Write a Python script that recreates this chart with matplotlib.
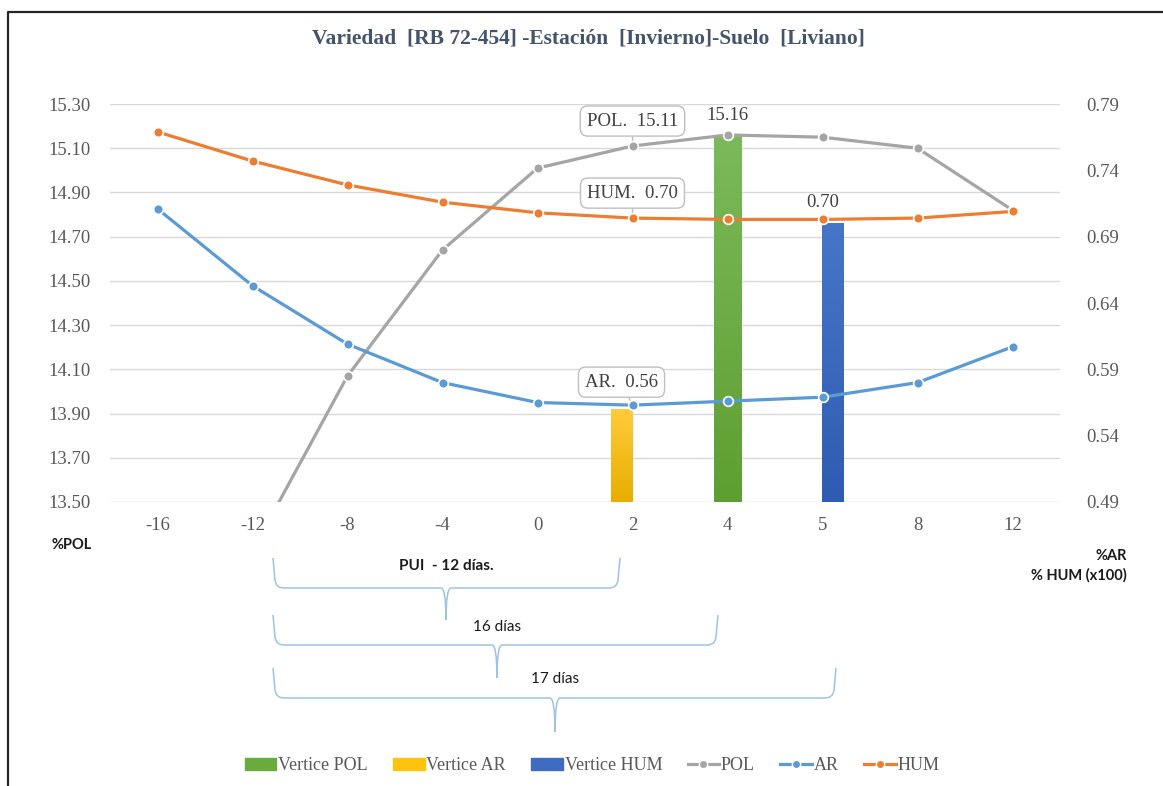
import numpy as np
import matplotlib.pyplot as plt
from matplotlib.path import Path
from matplotlib.patches import PathPatch
from matplotlib.lines import Line2D
from matplotlib.colors import LinearSegmentedColormap

plt.rcParams['font.family'] = ['Liberation Serif', 'DejaVu Serif']

# Días respecto a la cosecha
dias = ["-16", "-12", "-8", "-4", "0", "2", "4", "5", "8", "12"]

# %POL (eje izquierdo)
pol = [12.60, 13.28, 14.07, 14.64, 15.01, 15.11, 15.16, 15.15, 15.10, 14.82]
# %AR y %HUM x100 (eje derecho)
ar = [0.711, 0.653, 0.609, 0.580, 0.565, 0.563, 0.566, 0.569, 0.580, 0.607]
hum = [0.769, 0.747, 0.729, 0.716, 0.708, 0.704, 0.703, 0.703, 0.704, 0.709]

# Vértices de cada curva
vertice_pol = 15.16
vertice_ar = 0.56
vertice_hum = 0.70

c_pol, c_ar, c_hum = "#A5A5A5", "#5B9BD5", "#ED7D31"
c_vpol, c_var, c_vhum = "#6AAB40", "#FFC20E", "#3F6CC0"
gris_txt = "#595959"
grid_c = "#D9D9D9"

W, H = 1163, 786
fig = plt.figure(figsize=(W / 100, H / 100), dpi=100)
ax = fig.add_axes([110 / W, 1 - 502 / H, 950 / W, 398 / H])
ax2 = ax.twinx()

x = np.arange(len(dias))
i_pol, i_ar, i_hum = dias.index("4"), dias.index("2"), dias.index("5")


def barra_degradada(a, xc, alto, ancho, arriba, abajo, z):
    # barra con degradado vertical (claro arriba, oscuro abajo)
    b = a.bar(xc, alto, width=ancho, color="none", zorder=z)[0]
    cmap = LinearSegmentedColormap.from_list("g", [abajo, arriba])
    y0 = a.get_ylim()[0]
    img = a.imshow(np.linspace(0, 1, 64).reshape(-1, 1), cmap=cmap, origin="lower",
                   extent=(xc - ancho / 2, xc + ancho / 2, y0, alto),
                   aspect="auto", zorder=z, interpolation="bilinear")
    img.set_clip_path(b)


ax.set_xlim(-0.5, len(dias) - 0.5)
ax.set_ylim(13.50, 15.30)
ax2.set_ylim(0.49, 0.79)

barra_degradada(ax, x[i_pol], vertice_pol, 0.285, "#7CB95A", "#5E9F32", 2)
barra_degradada(ax2, x[i_ar] - 0.11, vertice_ar, 0.225, "#FFCB3A", "#E8AE00", 1)
barra_degradada(ax2, x[i_hum] + 0.11, vertice_hum, 0.225, "#4676C8", "#2E5CB2", 1)

mk = dict(marker="o", markersize=7, markeredgecolor="white", markeredgewidth=1.2)
ax.plot(x, pol, color=c_pol, lw=2.3, zorder=3, **mk)
ax2.plot(x, ar, color=c_ar, lw=2.3, zorder=3, **mk)
ax2.plot(x, hum, color=c_hum, lw=2.3, zorder=3, **mk)

ax.set_xlim(-0.5, len(dias) - 0.5)
ax.set_ylim(13.50, 15.30)
ax.set_yticks(np.arange(13.50, 15.31, 0.20))
ax.yaxis.set_major_formatter(plt.FuncFormatter(lambda v, p: f"{v:.2f}"))
ax2.set_ylim(0.49, 0.79)
ax2.set_yticks(np.arange(0.49, 0.791, 0.05))
ax2.yaxis.set_major_formatter(plt.FuncFormatter(lambda v, p: f"{v:.2f}"))
ax.set_xticks(x)
ax.set_xticklabels(dias)

ax.grid(axis="y", color=grid_c, lw=1)
ax.set_axisbelow(True)
for a in (ax, ax2):
    for s in a.spines.values():
        s.set_visible(False)
ax.tick_params(axis="both", length=0, labelsize=13.5, labelcolor=gris_txt)
ax.tick_params(axis="y", pad=14)
ax.tick_params(axis="x", pad=11)
ax2.tick_params(axis="y", length=0, labelsize=13.5, labelcolor=gris_txt, pad=19)

# etiquetas de datos
caja = dict(boxstyle="round,pad=0.35,rounding_size=0.4", fc="white", ec="#BFBFBF", lw=1)
flecha = dict(arrowstyle="-", color="#BFBFBF", lw=1, shrinkA=0, shrinkB=4)
ax.annotate(f"POL.  {pol[i_ar]:.2f}", (x[i_ar], pol[i_ar]), xytext=(0, 25),
            textcoords="offset pixels", ha="center", va="center", fontsize=13.5,
            color="#404040", bbox=caja, arrowprops=flecha, zorder=5)
ax2.annotate(f"HUM.  {hum[i_ar]:.2f}", (x[i_ar], hum[i_ar]), xytext=(0, 25),
             textcoords="offset pixels", ha="center", va="center", fontsize=13.5,
             color="#404040", bbox=caja, arrowprops=flecha, zorder=5)
ax2.annotate(f"AR.  {ar[i_ar]:.2f}", (x[i_ar], ar[i_ar]), xytext=(-11, 23),
             textcoords="offset pixels", ha="center", va="center", fontsize=13.5,
             color="#404040", bbox=caja, arrowprops=flecha, zorder=5)
ax.annotate(f"{vertice_pol:.2f}", (x[i_pol], vertice_pol), xytext=(0, 19),
            textcoords="offset pixels", ha="center", va="center", fontsize=13.5,
            color="#404040")
ax2.annotate(f"{vertice_hum:.2f}", (x[i_hum], vertice_hum), xytext=(0, 21),
             textcoords="offset pixels", ha="center", va="center", fontsize=13.5,
             color="#404040")

fig.text(588 / W, 1 - 38 / H, "Variedad  [RB 72-454] -Estación  [Invierno]-Suelo  [Liviano]",
         ha="center", va="center", fontsize=15.5, fontweight="bold", color="#44546A")

sans = ["Lato", "DejaVu Sans"]
fig.text(72 / W, 1 - 545 / H, "%POL", ha="center", va="center", fontsize=10.5,
         fontweight="bold", family=sans, color="#1a1a1a")
fig.text(1127 / W, 1 - 556 / H, "%AR", ha="right", va="center", fontsize=10.5,
         fontweight="bold", family=sans, color="#1a1a1a")
fig.text(1127 / W, 1 - 575 / H, "% HUM (x100)", ha="right", va="center", fontsize=10.5,
         fontweight="bold", family=sans, color="#1a1a1a")

# capa en pixeles para llaves y marco
ov = fig.add_axes([0, 0, 1, 1], zorder=-1)
ov.set_xlim(0, W)
ov.set_ylim(H, 0)
ov.axis("off")


def llave(x0, x1, xc, ytop, ylin, ytip, r=8):
    verts = [(x0, ytop), (x0 + 2, ylin - r), (x0 + 3, ylin), (x0 + 3 + r, ylin),
             (xc - 5, ylin), (xc, ylin), (xc, ytip),
             (xc, ytip), (xc, ylin), (xc + 5, ylin),
             (x1 - 3 - r, ylin), (x1 - 3, ylin), (x1 - 2, ylin - r), (x1, ytop)]
    codes = [Path.MOVETO, Path.LINETO, Path.CURVE3, Path.CURVE3,
             Path.LINETO, Path.CURVE3, Path.CURVE3,
             Path.MOVETO, Path.CURVE3, Path.CURVE3,
             Path.LINETO, Path.CURVE3, Path.CURVE3, Path.LINETO]
    ov.add_patch(PathPatch(Path(verts, codes), fc="none", ec="#9DC3E6", lw=1.1))


llave(273, 620, 446, 558, 588, 620)
llave(273, 718, 497, 615, 645, 678)
llave(273, 836, 555, 668, 698, 732)
ov.text(446, 566, "PUI  - 12 días.", ha="center", va="center", fontsize=11,
        fontweight="bold", family=sans, color="#1a1a1a")
ov.text(497, 627, "16 días", ha="center", va="center", fontsize=11,
        family=sans, color="#1a1a1a")
ov.text(555, 679, "17 días", ha="center", va="center", fontsize=11,
        family=sans, color="#1a1a1a")

ov.plot([8, 8, W], [H, 12, 12], color="#262626", lw=1.6, solid_capstyle="butt")

handles = [
    plt.Rectangle((0, 0), 1, 1, color=c_vpol),
    plt.Rectangle((0, 0), 1, 1, color=c_var),
    plt.Rectangle((0, 0), 1, 1, color=c_vhum),
    Line2D([], [], color=c_pol, lw=2.3, marker="o", markersize=6, markeredgecolor="white"),
    Line2D([], [], color=c_ar, lw=2.3, marker="o", markersize=6, markeredgecolor="white"),
    Line2D([], [], color=c_hum, lw=2.3, marker="o", markersize=6, markeredgecolor="white"),
]
etiquetas = ["Vertice POL", "Vertice AR", "Vertice HUM", "POL", "AR", "HUM"]
leg = fig.legend(handles, etiquetas, loc="center", bbox_to_anchor=(592 / W, 1 - 766 / H),
                 ncol=6, frameon=False, fontsize=13, handlelength=1.75, handleheight=0.6,
                 handletextpad=0.1, columnspacing=1.4)
for t in leg.get_texts():
    t.set_color(gris_txt)

fig.savefig("out.png", dpi=100)
